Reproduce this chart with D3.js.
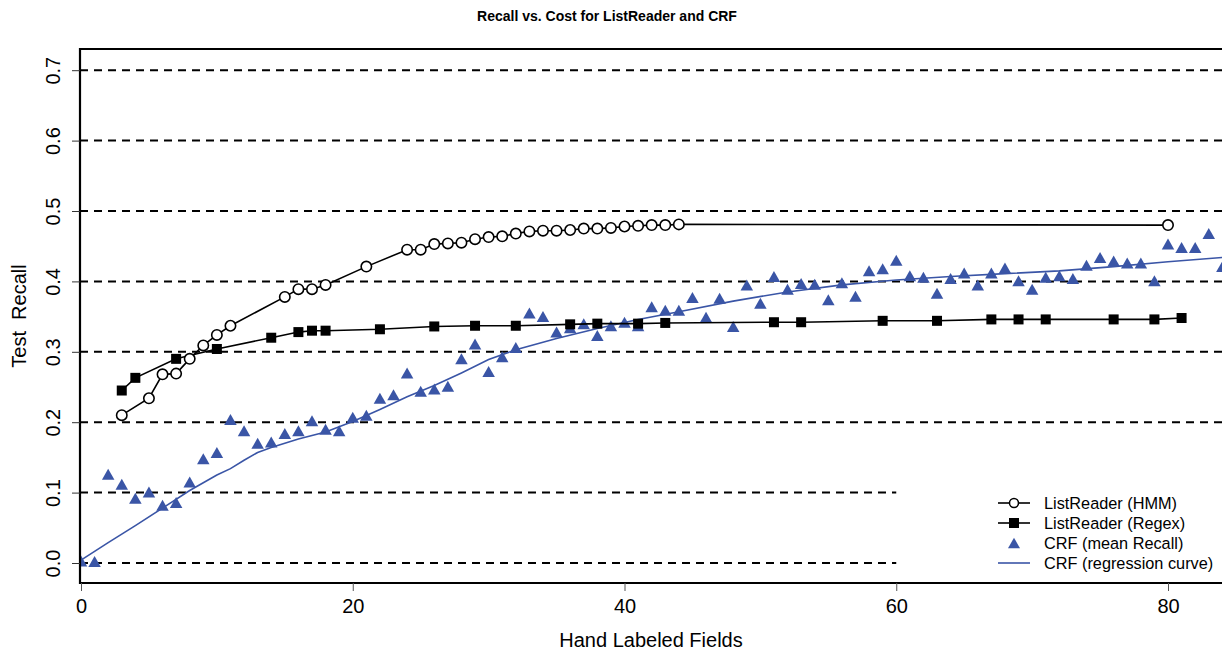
<!DOCTYPE html>
<html>
<head>
<meta charset="utf-8">
<script src="https://cdn.jsdelivr.net/npm/d3@7"></script>
<style>
  body { margin: 0; background: #fff; }
  svg { display: block; font-family: "Liberation Sans", Arial, sans-serif; }
</style>
</head>
<body>
<svg id="chart" width="1222" height="654"></svg>
<script>
// ListReader (HMM)
const hmmX = [3, 5, 6, 7, 8, 9, 10, 11, 15, 16, 17, 18, 21, 24, 25, 26, 27, 28, 29, 30,
  31, 32, 33, 34, 35, 36, 37, 38, 39, 40, 41, 42, 43, 44, 80];
const hmmY = [0.210, 0.234, 0.268, 0.269, 0.290, 0.309, 0.324, 0.337, 0.378, 0.389, 0.389, 0.395,
  0.421, 0.445, 0.445, 0.453, 0.454, 0.455, 0.460, 0.463, 0.464, 0.468, 0.471, 0.472, 0.472,
  0.473, 0.475, 0.475, 0.476, 0.478, 0.479, 0.480, 0.480, 0.481, 0.480];

// ListReader (Regex)
const regexX = [3, 4, 7, 10, 14, 16, 17, 18, 22, 26, 29, 32, 36, 38, 41, 43, 51, 53, 59, 63,
  67, 69, 71, 76, 79, 81];
const regexY = [0.245, 0.263, 0.290, 0.304, 0.320, 0.328, 0.330, 0.330, 0.332, 0.336, 0.337,
  0.337, 0.339, 0.340, 0.340, 0.341, 0.342, 0.342, 0.344, 0.344, 0.346, 0.346, 0.346, 0.346,
  0.346, 0.348];

// CRF (mean Recall)
const crfX = [0, 1, 2, 3, 4, 5, 6, 7, 8, 9, 10, 11, 12, 13, 14, 15, 16, 17, 18, 19, 20,
  21, 22, 23, 24, 25, 26, 27, 28, 29, 30, 31, 32, 33, 34, 35, 36, 37, 38, 39, 40,
  41, 42, 43, 44, 45, 46, 47, 48, 49, 50, 51, 52, 53, 54, 55, 56, 57, 58, 59, 60,
  61, 62, 63, 64, 65, 66, 67, 68, 69, 70, 71, 72, 73, 74, 75, 76, 77, 78, 79, 80,
  81, 82, 83, 84];
const crfY = [0.003, 0.002, 0.126, 0.112, 0.092, 0.101, 0.082, 0.086, 0.115, 0.148, 0.157,
  0.204, 0.188, 0.170, 0.172, 0.184, 0.188, 0.202, 0.190, 0.188, 0.207,
  0.210, 0.234, 0.239, 0.270, 0.244, 0.247, 0.251, 0.290, 0.311, 0.272,
  0.293, 0.306, 0.355, 0.350, 0.328, 0.334, 0.340, 0.323, 0.337, 0.342,
  0.337, 0.364, 0.359, 0.359, 0.377, 0.349, 0.376, 0.336, 0.395, 0.369,
  0.407, 0.389, 0.397, 0.396, 0.374, 0.398, 0.379, 0.415, 0.418, 0.430,
  0.408, 0.406, 0.383, 0.404, 0.412, 0.395, 0.412, 0.419, 0.401, 0.389,
  0.406, 0.408, 0.404, 0.423, 0.434, 0.429, 0.426, 0.426, 0.401, 0.453,
  0.448, 0.448, 0.468, 0.421];

// CRF (regression curve)
const fitX = [0, 2, 4, 6, 8, 10, 11, 12, 13, 14, 16, 18, 20, 22, 24, 26, 28, 30, 32, 35,
  38, 41, 44, 48, 52, 56, 60, 64, 68, 72, 76, 80, 84];
const fitY = [0.004, 0.029, 0.053, 0.078, 0.103, 0.125, 0.134, 0.146, 0.157, 0.164, 0.176,
  0.186, 0.201, 0.218, 0.236, 0.252, 0.270, 0.289, 0.303, 0.319, 0.333, 0.346, 0.357,
  0.372, 0.385, 0.395, 0.402, 0.407, 0.411, 0.415, 0.421, 0.428, 0.434];

const xTicks = [0, 20, 40, 60, 80];
const yTicks = [0.0, 0.1, 0.2, 0.3, 0.4, 0.5, 0.6, 0.7];
const legendLabels = ["ListReader (HMM)", "ListReader (Regex)", "CRF (mean Recall)", "CRF (regression curve)"];

const blue = "#3a55a6";
const plot = {left: 80, top: 49, bottom: 583, right: 1222};

const svg = d3.select("#chart");
const x = d3.scaleLinear().domain([0, 80]).range([81, 1168]);
const y = d3.scaleLinear().domain([0, 0.7]).range([563, 70.2]);

svg.append("defs").append("clipPath").attr("id", "clip")
  .append("rect")
  .attr("x", plot.left).attr("y", plot.top)
  .attr("width", plot.right - plot.left).attr("height", plot.bottom - plot.top);

// title
svg.append("text")
  .attr("x", 607).attr("y", 20.5)
  .attr("text-anchor", "middle")
  .attr("font-weight", "bold")
  .attr("font-size", 14)
  .text("Recall vs. Cost for ListReader and CRF");

// dashed grid lines (lower two stop at 60, behind the legend)
svg.append("g").selectAll("line")
  .data(yTicks)
  .join("line")
    .attr("x1", plot.left)
    .attr("x2", d => d < 0.15 ? x(60) : plot.right)
    .attr("y1", d => y(d)).attr("y2", d => y(d))
    .attr("stroke", "#000")
    .attr("stroke-width", 2)
    .attr("stroke-dasharray", "8,6");

const g = svg.append("g").attr("clip-path", "url(#clip)");

const line = d3.line().x(d => x(d[0])).y(d => y(d[1]));

// regression curve
g.append("path")
  .datum(d3.zip(fitX, fitY))
  .attr("fill", "none")
  .attr("stroke", blue)
  .attr("stroke-width", 1.6)
  .attr("d", line);

// CRF triangles
const tri = (w, h) => `M0,${-h / 2}L${w / 2},${h / 2}L${-w / 2},${h / 2}Z`;
g.selectAll(".crf")
  .data(d3.zip(crfX, crfY))
  .join("path")
    .attr("transform", d => `translate(${x(d[0])},${y(d[1])})`)
    .attr("d", tri(12.5, 11))
    .attr("fill", blue);

// Regex line + squares
g.append("path")
  .datum(d3.zip(regexX, regexY))
  .attr("fill", "none")
  .attr("stroke", "#000")
  .attr("stroke-width", 1.6)
  .attr("d", line);
g.selectAll(".sq")
  .data(d3.zip(regexX, regexY))
  .join("rect")
    .attr("x", d => x(d[0]) - 5).attr("y", d => y(d[1]) - 5)
    .attr("width", 10).attr("height", 10)
    .attr("fill", "#000");

// HMM line + circles
g.append("path")
  .datum(d3.zip(hmmX, hmmY))
  .attr("fill", "none")
  .attr("stroke", "#000")
  .attr("stroke-width", 1.6)
  .attr("d", line);
g.selectAll(".circ")
  .data(d3.zip(hmmX, hmmY))
  .join("circle")
    .attr("cx", d => x(d[0])).attr("cy", d => y(d[1]))
    .attr("r", 5.2)
    .attr("fill", "#fff")
    .attr("stroke", "#000")
    .attr("stroke-width", 1.6);

// frame: left, top, bottom
svg.append("path")
  .attr("d", `M${plot.right},${plot.top}H${plot.left}V${plot.bottom}H${plot.right}`)
  .attr("fill", "none")
  .attr("stroke", "#000")
  .attr("stroke-width", 2.2);

// x axis
const xAxis = svg.append("g")
  .attr("transform", `translate(0,${plot.bottom})`)
  .call(d3.axisBottom(x).tickValues(xTicks).tickSize(8).tickPadding(8).tickFormat(d3.format("d")));
xAxis.select(".domain").remove();
xAxis.selectAll(".tick line").attr("stroke", "#555");
xAxis.selectAll("text").attr("font-size", 20).attr("font-family", "Liberation Sans, Arial, sans-serif").attr("fill", "#000");

// y axis
const yAxis = svg.append("g")
  .attr("transform", `translate(${plot.left},0)`)
  .call(d3.axisLeft(y).tickValues(yTicks).tickSize(8).tickFormat(d3.format(".1f")));
yAxis.select(".domain").remove();
yAxis.selectAll(".tick line").attr("stroke", "#333");
yAxis.selectAll("text")
  .attr("font-size", 20)
  .attr("font-family", "Liberation Sans, Arial, sans-serif")
  .attr("fill", "#000")
  .attr("text-anchor", "middle")
  .attr("dy", null)
  .attr("x", null)
  .attr("transform", "translate(-20,0) rotate(-90)");

// axis titles
svg.append("text")
  .attr("x", 651).attr("y", 646.5)
  .attr("text-anchor", "middle")
  .attr("font-size", 20)
  .text("Hand Labeled Fields");
svg.append("text")
  .attr("transform", "translate(26,316) rotate(-90)")
  .attr("text-anchor", "middle")
  .attr("font-size", 20)
  .attr("xml:space", "preserve")
  .style("white-space", "pre")
  .text("Test  Recall");

// legend
const legend = svg.append("g").attr("font-size", 16.3);
const rowY = i => 503 + i * 20;
legendLabels.forEach((label, i) => {
  const row = legend.append("g").attr("transform", `translate(0,${rowY(i)})`);
  if (i !== 2) {
    row.append("line")
      .attr("x1", 998).attr("x2", 1030)
      .attr("stroke", i === 3 ? blue : "#000")
      .attr("stroke-width", 1.6);
  }
  if (i === 0) {
    row.append("circle").attr("cx", 1014).attr("r", 4.5)
      .attr("fill", "#fff").attr("stroke", "#000").attr("stroke-width", 1.5);
  } else if (i === 1) {
    row.append("rect").attr("x", 1009).attr("y", -5).attr("width", 10).attr("height", 10).attr("fill", "#000");
  } else if (i === 2) {
    row.append("path").attr("transform", "translate(1014,0)").attr("d", tri(12, 10.5)).attr("fill", blue);
  }
  row.append("text")
    .attr("x", 1044).attr("dy", "0.35em")
    .text(label);
});
</script>
</body>
</html>
